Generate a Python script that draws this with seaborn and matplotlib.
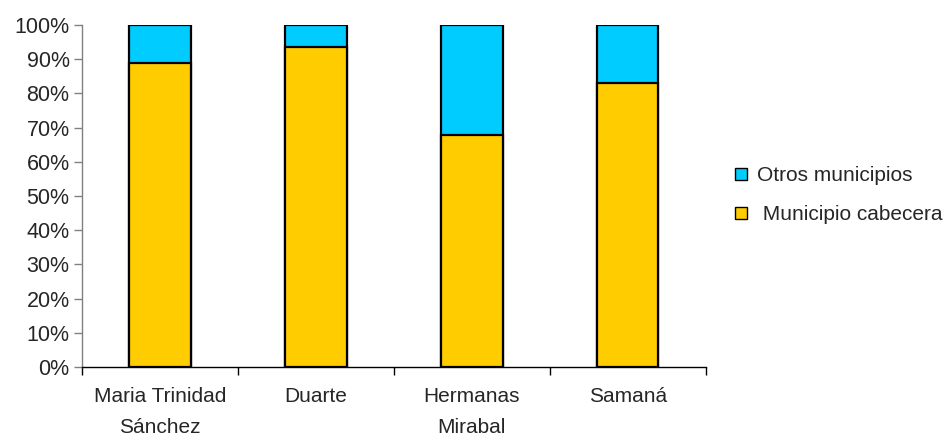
import pandas as pd
import matplotlib
matplotlib.use('Agg')
import matplotlib.pyplot as plt
import seaborn as sns
from matplotlib.ticker import PercentFormatter, FixedLocator
from matplotlib.lines import Line2D

provincias = ['Maria Trinidad\nSánchez', 'Duarte', 'Hermanas\nMirabal', 'Samaná']
cabecera = [88.8, 93.5, 67.7, 83.0]
otros = [11.2, 6.5, 32.3, 17.0]

df = pd.DataFrame({'provincia': provincias, 'cabecera': cabecera, 'otros': otros})
df['total'] = df['cabecera'] + df['otros']

sns.set_style('white')
plt.rcParams['font.family'] = ['Liberation Sans', 'DejaVu Sans']

fig = plt.figure(figsize=(9.45, 4.37), dpi=100)
ax = fig.add_axes([0.0868, 0.160, 0.660, 0.783])

sns.barplot(data=df, x='provincia', y='total', color='#00CCFF', saturation=1,
            width=0.394, edgecolor='black', linewidth=1.6, ax=ax)
sns.barplot(data=df, x='provincia', y='cabecera', color='#FFCC00', saturation=1,
            width=0.394, edgecolor='black', linewidth=1.6, ax=ax)

ax.set_xlim(-0.5, 3.5)
ax.set_ylim(0, 100)
ax.set_yticks(range(0, 101, 10))
ax.yaxis.set_major_formatter(PercentFormatter(decimals=0))
ax.set_xlabel('')
ax.set_ylabel('')

# labels centred under bars, tick marks between categories
ax.set_xticks(range(len(provincias)))
ax.set_xticklabels(provincias, fontsize=15, linespacing=1.85)
ax.xaxis.set_minor_locator(FixedLocator([-0.5, 0.5, 1.5, 2.5, 3.5]))
ax.tick_params(axis='x', which='major', length=0, pad=14)
ax.tick_params(axis='x', which='minor', length=6, width=1, color='black', direction='out', bottom=True)
ax.tick_params(axis='y', length=6, width=1, color='#808080', direction='out', left=True, labelsize=15.5, pad=3)

for s in ['top', 'right']:
    ax.spines[s].set_visible(False)
ax.spines['left'].set_color('#808080')
ax.spines['left'].set_linewidth(1)
ax.spines['bottom'].set_color('black')
ax.spines['bottom'].set_linewidth(1)

handles = [
    Line2D([], [], marker='s', linestyle='', markersize=9, markerfacecolor='#00CCFF', markeredgecolor='black'),
    Line2D([], [], marker='s', linestyle='', markersize=9, markerfacecolor='#FFCC00', markeredgecolor='black'),
]
fig.legend(handles, ['Otros municipios', ' Municipio cabecera'], loc='center left',
           bbox_to_anchor=(0.755, 0.553), frameon=False, fontsize=15,
           handlelength=0.8, handletextpad=0.4, labelspacing=0.95)

fig.savefig('out.png', dpi=100)
